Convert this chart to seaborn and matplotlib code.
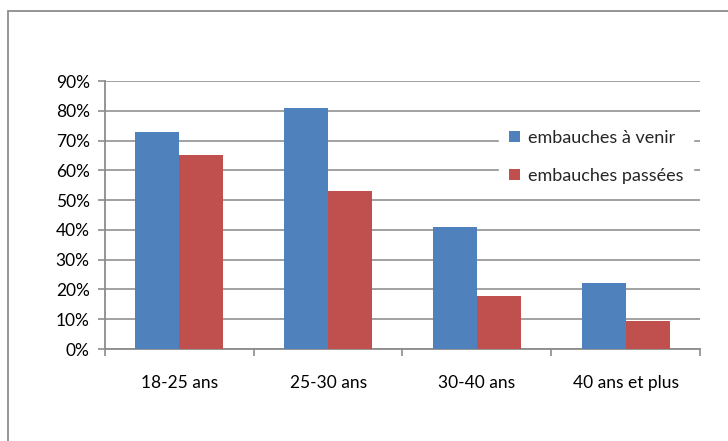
import pandas as pd
import matplotlib.pyplot as plt
import seaborn as sns
from matplotlib.ticker import PercentFormatter, FixedLocator
from matplotlib.patches import Rectangle

# Data
categories = ['18-25 ans', '25-30 ans', '30-40 ans', '40 ans et plus']
series_names = ['embauches à venir', 'embauches passées']
a_venir = [0.73, 0.81, 0.41, 0.22]
passees = [0.65, 0.53, 0.177, 0.093]
colors = ['#4F81BD', '#C0504D']

df = pd.DataFrame({
    'age': categories * 2,
    'serie': [series_names[0]] * 4 + [series_names[1]] * 4,
    'taux': a_venir + passees,
})

sns.set_theme(style='white')
plt.rcParams['font.family'] = ['Lato', 'DejaVu Sans']

fig = plt.figure(figsize=(7.28, 4.41), dpi=100)
ax = fig.add_axes([105 / 728, 1 - 349 / 441, 595 / 728, 268 / 441])

sns.barplot(data=df, x='age', y='taux', hue='serie', palette=colors,
            width=0.59, saturation=1, linewidth=0, ax=ax, zorder=3)

ax.set_xlim(-0.5, 3.5)
ax.set_ylim(0, 0.9)
ax.set_yticks([i / 10 for i in range(10)])
ax.yaxis.set_major_formatter(PercentFormatter(1.0, decimals=0))
ax.yaxis.grid(True, color='#9A9A9A', linewidth=1.3, zorder=0)
ax.set_axisbelow(True)
ax.set_xlabel('')
ax.set_ylabel('')

for s in ['top', 'right']:
    ax.spines[s].set_visible(False)
for s in ['left', 'bottom']:
    ax.spines[s].set_color('#8C8C8C')
    ax.spines[s].set_linewidth(1.3)

ax.tick_params(axis='y', which='major', left=True, length=5, width=1.2,
               color='#8C8C8C', labelsize=12.5, labelcolor='black', pad=6)
ax.tick_params(axis='x', which='major', bottom=False, labelsize=12.5,
               labelcolor='black', pad=13)
ax.xaxis.set_minor_locator(FixedLocator([-0.5, 0.5, 1.5, 2.5, 3.5]))
ax.tick_params(axis='x', which='minor', bottom=True, length=5, width=1.2,
               color='#8C8C8C')

leg = ax.legend(loc='upper left', bbox_to_anchor=(499 / 728, 1 - 120 / 441),
                bbox_transform=fig.transFigure, frameon=True, fancybox=False,
                fontsize=13, handlelength=0.6, handleheight=0.6,
                handletextpad=0.45, labelspacing=1.2, borderpad=0.55,
                borderaxespad=0)
leg.get_frame().set_facecolor('white')
leg.get_frame().set_edgecolor('white')
leg.get_frame().set_alpha(1)

# Outer chart frame
fig.patches.append(Rectangle((8 / 728, -0.05), 1.0, 1 - 11 / 441 + 0.05,
                             transform=fig.transFigure, fill=False,
                             edgecolor='#8C8C8C', linewidth=1.3))

fig.savefig('out.png', dpi=100)
